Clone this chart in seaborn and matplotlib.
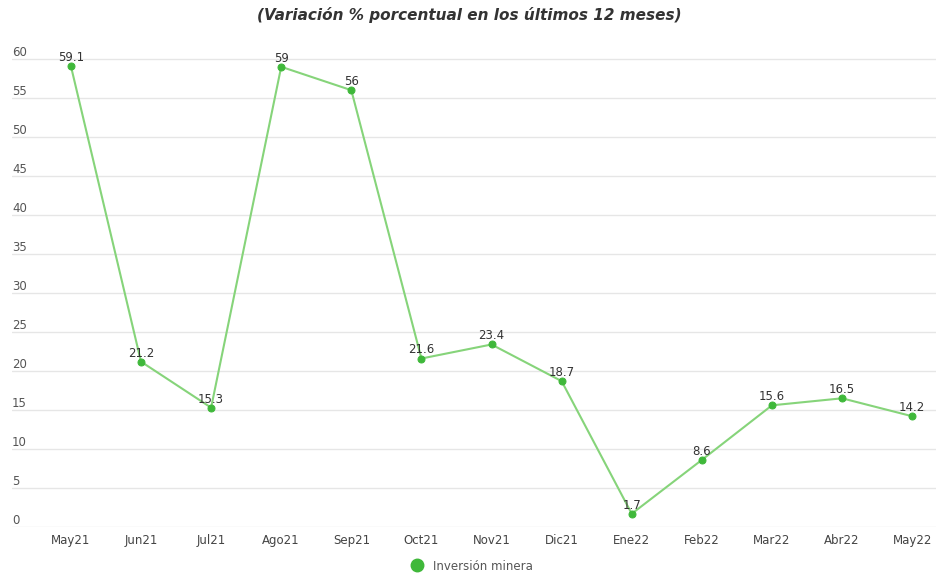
import matplotlib
matplotlib.use("Agg")
import matplotlib.pyplot as plt
import matplotlib.transforms as mtransforms
from matplotlib.lines import Line2D
import seaborn as sns
import pandas as pd

months = ["May21", "Jun21", "Jul21", "Ago21", "Sep21", "Oct21", "Nov21",
          "Dic21", "Ene22", "Feb22", "Mar22", "Abr22", "May22"]
values = [59.1, 21.2, 15.3, 59, 56, 21.6, 23.4, 18.7, 1.7, 8.6, 15.6, 16.5, 14.2]
value_labels = ["59.1", "21.2", "15.3", "59", "56", "21.6", "23.4", "18.7",
                "1.7", "8.6", "15.6", "16.5", "14.2"]
y_ticks = [0, 5, 10, 15, 20, 25, 30, 35, 40, 45, 50, 55, 60]
series_name = "Inversión minera"
title = "(Variación % porcentual en los últimos 12 meses)"

sns.set_theme(style="white")
plt.rcParams["font.family"] = ["DejaVu Sans"]

df = pd.DataFrame({"x": range(len(months)), "y": values})

fig = plt.figure(figsize=(9.38, 5.73), dpi=100)
ax = fig.add_axes([12 / 938, 46 / 573, 924 / 938, 483.6 / 573])

line_color = "#86d47a"
marker_color = "#3fb83a"

sns.lineplot(data=df, x="x", y="y", ax=ax, color=line_color, linewidth=1.5,
             marker="o", markersize=5, markerfacecolor=marker_color,
             markeredgecolor=marker_color, clip_on=False, legend=False)

ax.set_xlim(-0.84, 12.34)
ax.set_ylim(0, 62)
ax.set_xticks(range(len(months)))
ax.set_xticklabels(months, fontsize=8.5, color="#444444")
ax.tick_params(axis="x", length=0, pad=5)
ax.set_yticks(y_ticks)
ax.set_yticklabels([])
ax.tick_params(axis="y", length=0)
ax.grid(axis="y", color="#e6e6e6", linewidth=1)
ax.grid(axis="x", visible=False)
for s in ax.spines.values():
    s.set_visible(False)
ax.set_xlabel("")
ax.set_ylabel("")

trans = mtransforms.blended_transform_factory(ax.transAxes, ax.transData)
for t in y_ticks:
    ax.text(0.0, t, str(t), transform=trans, fontsize=8.5, color="#555555",
            ha="left", va="bottom")

for i, (v, lab) in enumerate(zip(values, value_labels)):
    ax.annotate(lab, (i, v), xytext=(0, 1.5), textcoords="offset points",
                ha="center", va="bottom", fontsize=8.5, color="#333333")

fig.text(0.5, 1 - 15 / 573, title, ha="center", va="center", fontsize=11,
         fontweight="bold", fontstyle="italic", color="#333333")

handle = Line2D([], [], linestyle="none", marker="o", markersize=9,
                markerfacecolor=marker_color, markeredgecolor=marker_color)
fig.legend([handle], [series_name], loc="center", bbox_to_anchor=(0.5, 1 - 566 / 573),
           frameon=False, fontsize=8.5, labelcolor="#555555", handletextpad=0.3)

fig.savefig("out.png", dpi=100)
